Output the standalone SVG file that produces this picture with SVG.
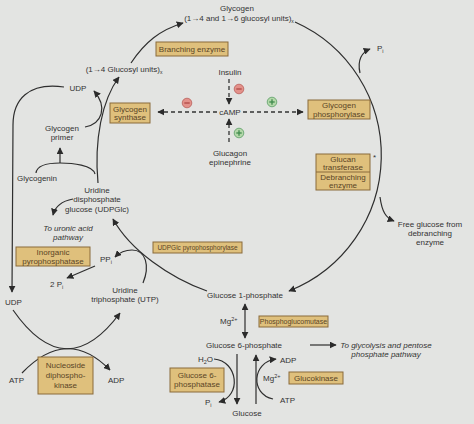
<svg xmlns="http://www.w3.org/2000/svg" width="474" height="424" viewBox="0 0 474 424">
<defs>
<marker id="ah" viewBox="0 0 10 10" refX="9" refY="5" markerWidth="7" markerHeight="7" markerUnits="userSpaceOnUse" orient="auto-start-reverse">
<path d="M0,0 L10,5 L0,10 Z" fill="#2b2b2b"/>
</marker>
<style>
text{font-family:"Liberation Sans",Arial,sans-serif;font-size:8px;fill:#333;}
.c{text-anchor:middle;}
.it{font-style:italic;}
.box{fill:#dfc07c;stroke:#8a6a3a;stroke-width:1;}
.bt{fill:#5a4526;text-anchor:middle;}
.sm{font-size:7px;}
.xs{font-size:6.5px;}
.ln{fill:none;stroke:#2e2e2e;stroke-width:1.2;}
.arr{fill:none;stroke:#2e2e2e;stroke-width:1.2;marker-end:url(#ah);}
.dash{fill:none;stroke:#333;stroke-width:1.3;stroke-dasharray:4 3;marker-end:url(#ah);}
.minus{fill:#e3918a;stroke:#b9605a;stroke-width:0.8;}
.plus{fill:#b3d7a9;stroke:#5b9e66;stroke-width:0.8;}
.ms{stroke:#b04a45;stroke-width:1.3;}
.ps{stroke:#3f8a4c;stroke-width:1.3;}
</style>
</defs>
<rect width="474" height="424" fill="#e3e4e2"/>

<g id="connectors">
<path class="arr" d="M295,22 A146,146 0 0 1 289,291"/>
<path class="arr" d="M360,73 C357,60 362,52 370,49"/>
<path class="arr" d="M380,197 C382,212 386,218 394,221"/>
<path class="arr" d="M131,63 C145,42 160,30 183,23"/>
<path class="dash" d="M229,79 L229,104"/>
<path class="dash" d="M217,112 L158,112"/>
<path class="dash" d="M243,112 L303,112"/>
<path class="dash" d="M229,142 L229,119"/>
<path class="arr" d="M64,87 C28,82 13,100 13,125 L12,292"/>
<path class="arr" d="M98,183 C94,140 102,100 119,77"/>
<path class="arr" d="M85,127 C102,124 108,107 94,91"/>
<path class="ln" d="M36,173 C37,165 48,163 60,163 C72,163 93,165 95,174"/>
<path class="arr" d="M60,163 L60,148"/>
<path class="arr" d="M73,199 C62,201 55,207 53,215"/>
<path class="arr" d="M95,266 L67,278"/>
<path class="arr" d="M143,283 C150,266 146,250 132,250 C124,250 119,253 115,257"/>
<path class="arr" d="M207,291 C170,278 130,250 113,219"/>
<path class="arr" d="M13,310 Q66,386 120,313"/>
<path class="arr" d="M22,373 Q67,326 110,370"/>
<path class="arr" d="M245,304 L245,338" marker-start="url(#ah)"/>
<path class="arr" d="M310,345 L336,345"/>
<path class="arr" d="M214,359 C238,361 242,396 219,402"/>
<path class="arr" d="M237,354 L237,404"/>
<path class="arr" d="M256,404 L256,355"/>
<path class="arr" d="M273,399 C250,394 252,362 276,359"/>
</g>

<g id="glycogen">
<text class="c" x="237" y="11">Glycogen</text>
<text class="c" x="239" y="21">(1→4 and 1→6 glucosyl units)<tspan font-size="5" dy="2">x</tspan></text>
</g>
<g id="branching-enzyme">
<rect class="box" x="156" y="42" width="72" height="14"/>
<text class="bt" x="192" y="52">Branching enzyme</text>
</g>
<g id="glucosyl-units">
<text class="c" x="124" y="72">(1→4 Glucosyl units)<tspan font-size="5" dy="2">x</tspan></text>
</g>
<g id="insulin"><text class="c" x="230" y="75">Insulin</text></g>
<g id="camp"><text class="c" x="230" y="115">cAMP</text></g>
<g id="glucagon">
<text class="c" x="230" y="156">Glucagon</text>
<text class="c" x="230" y="165">epinephrine</text>
</g>
<g id="sign-insulin"><circle class="minus" cx="239" cy="89" r="4.8"/><line class="ms" x1="236.3" y1="89" x2="241.7" y2="89"/></g>
<g id="sign-synthase"><circle class="minus" cx="187" cy="103" r="4.8"/><line class="ms" x1="184.3" y1="103" x2="189.7" y2="103"/></g>
<g id="sign-phosphorylase"><circle class="plus" cx="272" cy="102" r="4.8"/><line class="ps" x1="269.3" y1="102" x2="274.7" y2="102"/><line class="ps" x1="272" y1="99.3" x2="272" y2="104.7"/></g>
<g id="sign-glucagon"><circle class="plus" cx="239" cy="133" r="4.8"/><line class="ps" x1="236.3" y1="133" x2="241.7" y2="133"/><line class="ps" x1="239" y1="130.3" x2="239" y2="135.7"/></g>

<g id="glycogen-synthase">
<rect class="box" x="110" y="103" width="40" height="20"/>
<text class="bt" x="130" y="111.5">Glycogen</text>
<text class="bt" x="130" y="120">synthase</text>
</g>
<g id="glycogen-phosphorylase">
<rect class="box" x="308" y="100" width="62" height="19"/>
<text class="bt" x="339" y="108">Glycogen</text>
<text class="bt" x="339" y="116.5">phosphorylase</text>
</g>
<g id="debranching">
<rect class="box" x="316" y="154" width="54" height="36"/>
<line x1="316" y1="172" x2="370" y2="172" stroke="#8a6a3a" stroke-width="1"/>
<text class="bt" x="343" y="161.5">Glucan</text>
<text class="bt" x="343" y="169.5">transferase</text>
<text class="bt" x="343" y="179.5">Debranching</text>
<text class="bt" x="343" y="187.5">enzyme</text>
<text x="373" y="160">*</text>
</g>
<g id="pi-top"><text x="377" y="51">P<tspan font-size="5.5" dy="1.5">i</tspan></text></g>
<g id="free-glucose">
<text class="c" x="430" y="227">Free glucose from</text>
<text class="c" x="430" y="236">debranching</text>
<text class="c" x="430" y="245">enzyme</text>
</g>

<g id="udp-top"><text class="c" x="78" y="91">UDP</text></g>
<g id="glycogen-primer">
<text class="c" x="62" y="131">Glycogen</text>
<text class="c" x="62" y="140">primer</text>
</g>
<g id="glycogenin"><text class="c" x="37" y="181">Glycogenin</text></g>
<g id="udpglc">
<text class="c" x="97" y="193">Uridine</text>
<text class="c" x="97" y="202">disphosphate</text>
<text class="c" x="97" y="212">glucose (UDPGlc)</text>
</g>
<g id="uronic">
<text class="c it" x="68" y="231">To uronic acid</text>
<text class="c it" x="68" y="240">pathway</text>
</g>
<g id="inorganic-pyrophosphatase">
<rect class="box" x="16" y="247" width="74" height="19"/>
<text class="bt" x="53" y="255">Inorganic</text>
<text class="bt" x="53" y="263.5">pyrophosphatase</text>
</g>
<g id="ppi"><text x="100" y="262">PP<tspan font-size="5.5" dy="1.5">i</tspan></text></g>
<g id="two-pi"><text x="50" y="287">2 P<tspan font-size="5.5" dy="1.5">i</tspan></text></g>
<g id="utp">
<text class="c" x="125" y="293">Uridine</text>
<text class="c" x="125" y="302">triphosphate (UTP)</text>
</g>
<g id="udpglc-pyrophosphorylase">
<rect class="box" x="153" y="242" width="89" height="11"/>
<text class="bt xs" x="197.5" y="250">UDPGlc pyrophosphorylase</text>
</g>
<g id="udp-bottom"><text x="5" y="305">UDP</text></g>
<g id="atp-left"><text x="9" y="383">ATP</text></g>
<g id="adp-left"><text x="108" y="383">ADP</text></g>
<g id="nucleoside-kinase">
<rect class="box" x="38" y="357" width="55" height="37"/>
<text class="bt" x="65.5" y="368">Nucleoside</text>
<text class="bt" x="65.5" y="378">diphospho-</text>
<text class="bt" x="65.5" y="388">kinase</text>
</g>

<g id="g1p"><text class="c" x="245" y="298">Glucose 1-phosphate</text></g>
<g id="mg-upper"><text x="220" y="324">Mg<tspan font-size="5.5" dy="-3">2+</tspan></text></g>
<g id="phosphoglucomutase">
<rect class="box" x="259" y="316" width="69" height="11"/>
<text class="bt sm" x="293.5" y="324">Phosphoglucomutase</text>
</g>
<g id="g6p"><text class="c" x="244" y="348">Glucose 6-phosphate</text></g>
<g id="glycolysis">
<text class="c it" x="386" y="348">To glycolysis and pentose</text>
<text class="c it" x="386" y="357">phosphate pathway</text>
</g>
<g id="h2o"><text x="198" y="362">H<tspan font-size="5.5" dy="1.5">2</tspan><tspan dy="-1.5">O</tspan></text></g>
<g id="glucose-6-phosphatase">
<rect class="box" x="170" y="368" width="54" height="24"/>
<text class="bt" x="197" y="378">Glucose 6-</text>
<text class="bt" x="197" y="387">phosphatase</text>
</g>
<g id="pi-bottom"><text x="205" y="405">P<tspan font-size="5.5" dy="1.5">i</tspan></text></g>
<g id="adp-right"><text x="280" y="363">ADP</text></g>
<g id="mg-lower"><text x="263" y="381">Mg<tspan font-size="5.5" dy="-3">2+</tspan></text></g>
<g id="atp-right"><text x="280" y="403">ATP</text></g>
<g id="glucokinase">
<rect class="box" x="289" y="372" width="54" height="12"/>
<text class="bt" x="316" y="381">Glucokinase</text>
</g>
<g id="glucose"><text class="c" x="247" y="416">Glucose</text></g>
</svg>
